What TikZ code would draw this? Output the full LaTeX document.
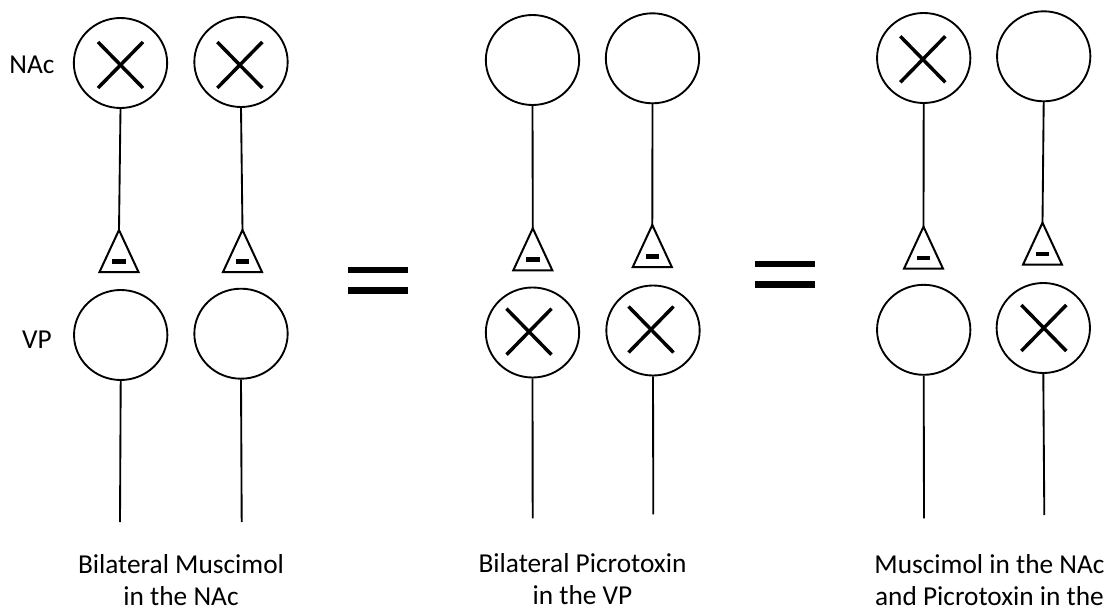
\documentclass[tikz,border=0pt]{standalone}
\usepackage{fontspec}
\setmainfont{Carlito}
\usetikzlibrary{shapes.geometric}

\tikzset{
  cell/.style={draw, ellipse, line width=1.4pt, minimum width=70pt,
               minimum height=67.5pt, inner sep=0pt},
  axon/.style={line width=1.4pt},
  synapse/.style={line width=1.5pt, line join=miter},
  blockx/.style={line width=2.6pt},
  bar/.style={fill=black},
  lbl/.style={font=\fontsize{20.5}{24.5}\selectfont, inner sep=0pt},
  caption/.style={font=\fontsize{20.5}{24}\selectfont, align=center, inner sep=0pt}
}

% one inhibitory terminal: triangle hanging from its apex, with a minus inside
\newcommand{\terminal}[1]{%
  \draw[synapse] (#1) -- ++(19.5,42) -- ++(-39,0) -- cycle;
  \fill (#1) ++(-6.8,29) rectangle ++(13.6,4.6);
}
% a cross marking an inactivated cell
\newcommand{\blocked}[1]{%
  \draw[blockx] (#1) ++(-22.5,-23) -- ++(45,46);
  \draw[blockx] (#1) ++(22.5,-23) -- ++(-45,46);
}

\begin{document}
\begin{tikzpicture}[x=0.75pt, y=-0.75pt]
\useasboundingbox (0,0) rectangle (1107,613);

% row labels
\node[lbl] (rowNAc) at (32,65) {NAc};
\node[lbl] (rowVP) at (37,340) {VP};

% ---------- column pair 1 ----------
\node[cell] (a1) at (120.5,63) {};
\node[cell] (a2) at (241,62) {};
\coordinate (ta1) at (119,230);
\coordinate (ta2) at (242.5,230);
\node[cell] (b1) at (120.7,335) {};
\node[cell] (b2) at (241,333.7) {};
\coordinate (ea1) at (120,522);
\coordinate (ea2) at (241.7,522);
\blocked{120.5,65}
\blocked{239.8,65}
\draw[axon] (a1.south) -- (ta1);
\draw[axon] (a2.south) -- (ta2);
\terminal{ta1}
\terminal{ta2}
\draw[axon] (b1.south) -- (ea1);
\draw[axon] (b2.south) -- (ea2);
\node[caption] (cap1) at (181,580.5) {Bilateral Muscimol\\in the NAc};

% equals sign
\fill[bar] (347.7,266.7) rectangle (407.7,273.3);
\fill[bar] (347.7,287.3) rectangle (407.7,293.5);

% ---------- column pair 2 ----------
\node[cell] (c1) at (532.5,60) {};
\node[cell] (c2) at (652.5,58.3) {};
\coordinate (tc1) at (532.8,228.3);
\coordinate (tc2) at (652.3,225);
\node[cell] (d1) at (532.5,332.5) {};
\node[cell] (d2) at (653,330.5) {};
\coordinate (ec1) at (532.7,518.3);
\coordinate (ec2) at (653.3,514.3);
\draw[axon] (c1.south) -- (tc1);
\draw[axon] (c2.south) -- (tc2);
\terminal{tc1}
\terminal{tc2}
\blocked{529,331.7}
\blocked{651,329.5}
\draw[axon] (d1.south) -- (ec1);
\draw[axon] (d2.south) -- (ec2);
\node[caption] (cap2) at (582.5,579.5) {Bilateral Picrotoxin\\in the VP};

% equals sign
\fill[bar] (755,261) rectangle (815,267.3);
\fill[bar] (755,281) rectangle (815,287.7);

% ---------- column pair 3 ----------
\node[cell] (f1) at (923.7,58) {};
\node[cell] (f2) at (1043.7,56.3) {};
\coordinate (tf1) at (923.5,226.7);
\coordinate (tf2) at (1042.5,222.7);
\node[cell] (g1) at (923.7,329.8) {};
\node[cell] (g2) at (1043.3,328) {};
\coordinate (eg1) at (924,518.3);
\coordinate (eg2) at (1044.3,515);
\blocked{922.8,59.3}
\draw[axon] (f1.south) -- (tf1);
\draw[axon] (f2.south) -- (tf2);
\terminal{tf1}
\terminal{tf2}
\blocked{1043.8,328}
\draw[axon] (g1.south) -- (eg1);
\draw[axon] (g2.south) -- (eg2);
\node[caption] (cap3) at (989.5,580.5) {Muscimol in the NAc\\and Picrotoxin in the};

\end{tikzpicture}
\end{document}
